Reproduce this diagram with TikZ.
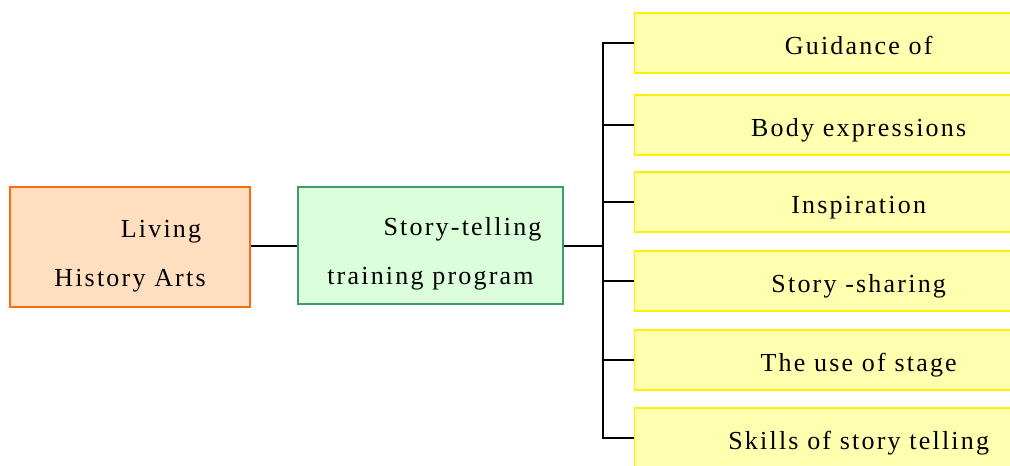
\documentclass[tikz,border=0pt]{standalone}
\usepackage{fontspec}
\setmainfont{Liberation Serif}[LetterSpace=8.5]
\usepackage{tikz}
\usetikzlibrary{positioning, calc}

\definecolor{peachfill}{HTML}{FFDFC0}
\definecolor{peachline}{HTML}{FF6A10}
\definecolor{mintfill}{HTML}{DAFFDA}
\definecolor{mintline}{HTML}{3F9B6C}
\definecolor{lemonfill}{HTML}{FFFFB0}
\definecolor{lemonline}{HTML}{FFF000}

\begin{document}
\begin{tikzpicture}[x=1pt, y=-1pt, line width=1.4pt]
        % Stiluri
        \tikzstyle{rootbox} = [draw=peachline, fill=peachfill, rectangle, minimum width=240pt, minimum height=120pt, align=center, font=\fontsize{26}{49}\selectfont]
        \tikzstyle{progbox} = [draw=mintline, fill=mintfill, rectangle, minimum width=265pt, minimum height=117pt, align=center, font=\fontsize{26}{49}\selectfont]
        \tikzstyle{leafbox} = [draw=lemonline, fill=lemonfill, rectangle, minimum width=448pt, minimum height=60pt, text height=22pt, text depth=0pt, anchor=west, font=\fontsize{26}{30}\selectfont]

        \useasboundingbox (0,0) rectangle (1010,466);
        \clip (0,0) rectangle (1010,466);

        % Blocurile din stanga
        \node [rootbox] (arts) at (130,247) {\rule{0pt}{35pt}\hspace*{62pt}Living\\History Arts};
        \node [progbox] (prog) at (430.5,245.5) {\rule{0pt}{35pt}\hspace*{64pt}Story-telling\\training program};

        % Blocurile din dreapta
        \node [leafbox] (guide) at (634,43) {Guidance of};
        \node [leafbox] (body) at (634,125) {Body expressions};
        \node [leafbox] (insp) at (634,202) {Inspiration};
        \node [leafbox] (share) at (634,281) {Story -sharing};
        \node [leafbox] (stage) at (634,360) {The use of stage};
        \node [leafbox] (skill) at (634,438) {Skills of story telling};

        % --- Legaturi ---
        \coordinate (bus) at (603,246);
        \draw (arts.east |- bus) -- (prog.west |- bus);
        \draw (prog.east |- bus) -- (bus);
        \foreach \leaf in {guide, body, insp, share, stage, skill}
            \draw (bus) |- (\leaf.west);

    \end{tikzpicture}
\end{document}
